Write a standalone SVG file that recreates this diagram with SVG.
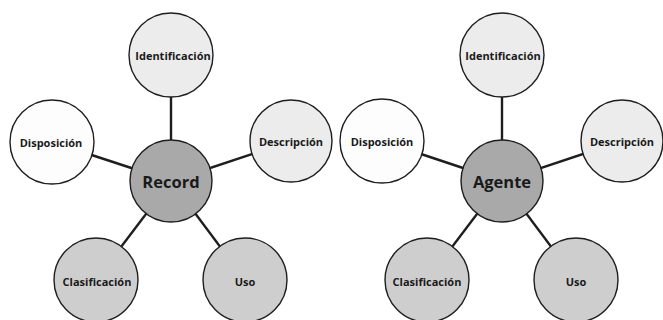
<svg xmlns="http://www.w3.org/2000/svg" width="663" height="320" viewBox="0 0 663 320">
<style>
.bg{fill:#ffffff}
.c{stroke:#1e1e1e;stroke-width:1.4}
.w{fill:#fdfdfd}
.l{fill:#ececec}
.m{fill:#cecece}
.d{fill:#a9a9a9}
.e{stroke:#1e1e1e;stroke-width:2.4;fill:none}
text{font-family:"Open Sans","Noto Sans","Liberation Sans",sans-serif;font-weight:bold;fill:#1a1a1a;text-anchor:middle;dominant-baseline:central}
.s{font-size:11px}
.b{font-size:16.5px}
</style>
<rect class="bg" width="663" height="320"/>
<g id="connectors">
<line class="e" x1="171" y1="181" x2="171" y2="55"/>
<line class="e" x1="171" y1="181" x2="52" y2="142"/>
<line class="e" x1="171" y1="181" x2="291" y2="141"/>
<line class="e" x1="171" y1="181" x2="96" y2="280"/>
<line class="e" x1="171" y1="181" x2="245" y2="280"/>
<line class="e" x1="502" y1="181" x2="502" y2="55"/>
<line class="e" x1="502" y1="181" x2="382" y2="141"/>
<line class="e" x1="502" y1="181" x2="622" y2="141"/>
<line class="e" x1="502" y1="181" x2="427" y2="280"/>
<line class="e" x1="502" y1="181" x2="576" y2="280"/>
</g>
<g id="r-ident"><circle class="c l" cx="171" cy="55" r="42"/><text class="s" x="173" y="55">Identificación</text></g>
<g id="r-disp"><circle class="c w" cx="52" cy="142" r="42"/><text class="s" x="51" y="142">Disposición</text></g>
<g id="r-desc"><circle class="c l" cx="291" cy="141" r="41"/><text class="s" x="291" y="141">Descripción</text></g>
<g id="r-clas"><circle class="c m" cx="96" cy="280" r="42"/><text class="s" x="97" y="281">Clasificación</text></g>
<g id="r-uso"><circle class="c m" cx="245" cy="280" r="42"/><text class="s" x="245" y="281">Uso</text></g>
<g id="record"><circle class="c d" cx="171" cy="181" r="41"/><text class="b" x="171" y="181">Record</text></g>
<g id="a-ident"><circle class="c l" cx="502" cy="55" r="42"/><text class="s" x="503" y="55">Identificación</text></g>
<g id="a-disp"><circle class="c w" cx="382" cy="141" r="42"/><text class="s" x="382" y="141">Disposición</text></g>
<g id="a-desc"><circle class="c l" cx="622" cy="141" r="41"/><text class="s" x="622" y="141">Descripción</text></g>
<g id="a-clas"><circle class="c m" cx="427" cy="280" r="42"/><text class="s" x="427" y="281">Clasificación</text></g>
<g id="a-uso"><circle class="c m" cx="576" cy="280" r="42"/><text class="s" x="576" y="281">Uso</text></g>
<g id="agente"><circle class="c d" cx="502" cy="181" r="41"/><text class="b" x="502" y="181">Agente</text></g>
</svg>
